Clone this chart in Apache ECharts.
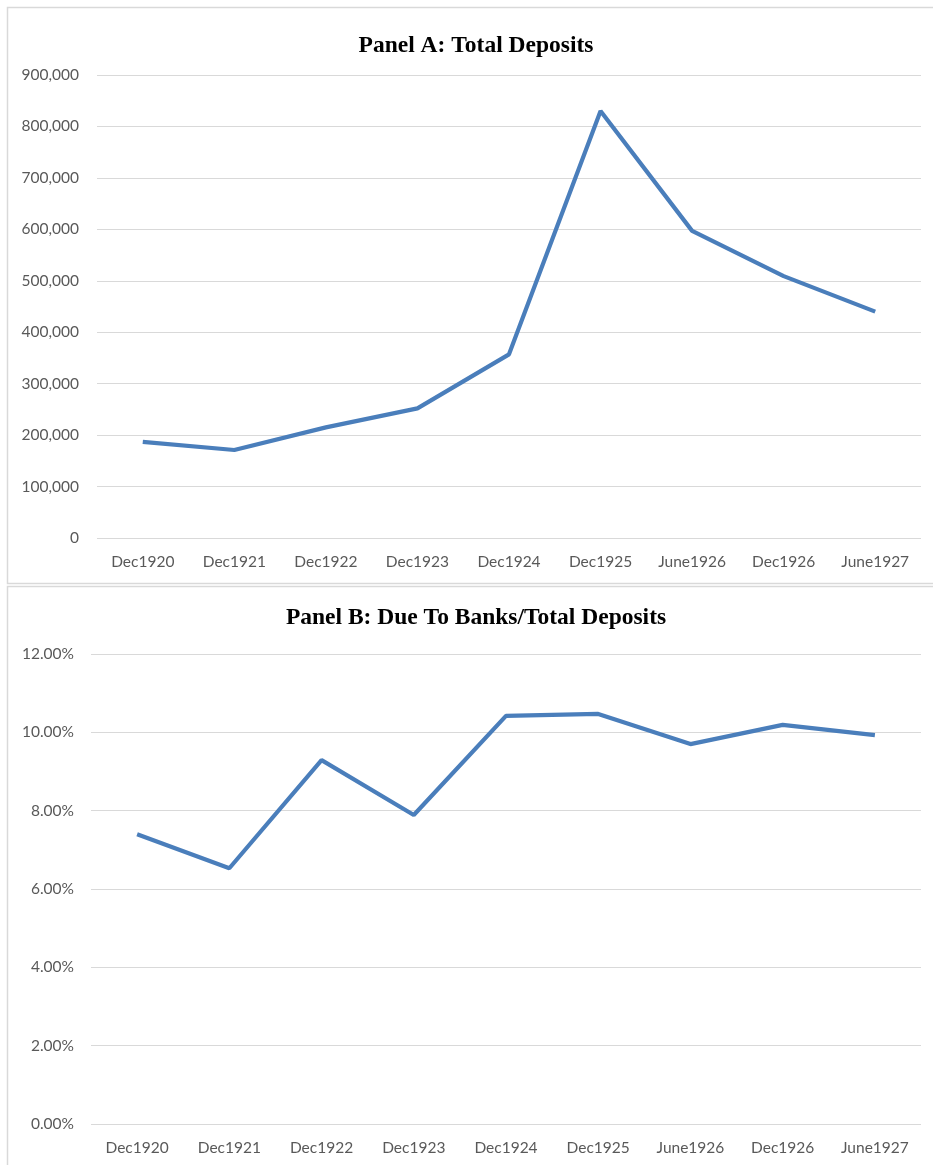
<!DOCTYPE html>
<html>
<head>
<meta charset="utf-8">
<script src="https://cdn.jsdelivr.net/npm/echarts@6/dist/echarts.min.js"></script>
<style>
html,body{margin:0;padding:0;background:#fff;}
#c{width:933px;height:1165px;}
</style>
</head>
<body>
<div id="c"></div>
<script>
var categories = ['Dec1920','Dec1921','Dec1922','Dec1923','Dec1924','Dec1925','June1926','Dec1926','June1927'];
var totalDeposits = [187000, 171000, 215000, 252000, 357000, 830000, 597000, 509000, 440000];
var dueToBanksRatio = [0.0740, 0.0653, 0.0929, 0.0789, 0.1042, 0.1047, 0.0970, 0.1019, 0.0993];
var titleA = 'Panel A: Total Deposits';
var titleB = 'Panel B: Due To Banks/Total Deposits';

var chart = echarts.init(document.getElementById('c'));
var labelFont = {color:'#595959', fontSize:15.5, fontFamily:'Lato, "Open Sans", sans-serif'};
var splitLine = {show:true, lineStyle:{color:'#d9d9d9', width:1}};
var lineStyle = {color:'#4a7ebb', width:4.2};
var titleFont = 'bold 23.5px "Liberation Serif", "Times New Roman", serif';

function fmtThousands(v){ return v.toString().replace(/\B(?=(\d{3})+(?!\d))/g, ','); }

chart.setOption({
  animation:false,
  graphic:[
    {type:'polyline', shape:{points:[[933,7.5],[7.5,7.5],[7.5,583.5],[933,583.5]]}, style:{stroke:'#d9d9d9', fill:null, lineWidth:1.5}, silent:true},
    {type:'polyline', shape:{points:[[933,586.5],[7.5,586.5],[7.5,1165]]}, style:{stroke:'#d9d9d9', fill:null, lineWidth:1.5}, silent:true},
    {type:'text', x:476, y:45.5, style:{text:titleA, font:titleFont, fill:'#000', textAlign:'center', textVerticalAlign:'middle'}, silent:true},
    {type:'text', x:476, y:618, style:{text:titleB, font:titleFont, fill:'#000', textAlign:'center', textVerticalAlign:'middle'}, silent:true}
  ],
  grid:[
    {left:97, right:12, top:75, height:463},
    {left:91, right:12, top:654, height:470}
  ],
  xAxis:[
    {type:'category', gridIndex:0, data:categories, boundaryGap:true,
     axisLine:{show:false}, axisTick:{show:false}, axisLabel:Object.assign({margin:16}, labelFont)},
    {type:'category', gridIndex:1, data:categories, boundaryGap:true,
     axisLine:{show:false}, axisTick:{show:false}, axisLabel:Object.assign({margin:16}, labelFont)}
  ],
  yAxis:[
    {type:'value', gridIndex:0, min:0, max:900000, interval:100000,
     axisLine:{show:false}, axisTick:{show:false}, splitLine:splitLine,
     axisLabel:Object.assign({margin:18, formatter:function(v){return fmtThousands(v);}}, labelFont)},
    {type:'value', gridIndex:1, min:0, max:0.12, interval:0.02,
     axisLine:{show:false}, axisTick:{show:false}, splitLine:splitLine,
     axisLabel:Object.assign({margin:17, formatter:function(v){return (v*100).toFixed(2)+'%';}}, labelFont)}
  ],
  series:[
    {type:'line', xAxisIndex:0, yAxisIndex:0, data:totalDeposits, symbol:'none', lineStyle:lineStyle},
    {type:'line', xAxisIndex:1, yAxisIndex:1, data:dueToBanksRatio, symbol:'none', lineStyle:lineStyle}
  ]
});
</script>
</body>
</html>
